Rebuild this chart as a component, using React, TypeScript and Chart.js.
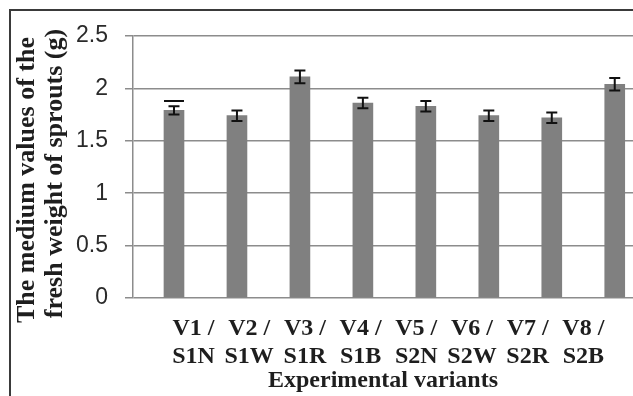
import React, { useEffect, useRef } from "react";
import { Chart, registerables } from "chart.js";

Chart.register(...registerables);

const variantLine = ["V1 /", "V2 /", "V3 /", "V4 /", "V5 /", "V6 /", "V7 /", "V8 /"];
const substrateLine = ["S1N", "S1W", "S1R", "S1B", "S2N", "S2W", "S2R", "S2B"];
const freshWeight = [1.79, 1.74, 2.11, 1.86, 1.83, 1.74, 1.72, 2.04];
const errorBar = [0.04, 0.05, 0.06, 0.05, 0.05, 0.05, 0.05, 0.06];
const extraMark: (number | null)[] = [1.88, null, null, null, null, null, null, null];
const yTicks = [0, 0.5, 1, 1.5, 2, 2.5];
const yTitle = ["The medium values of the    ", "fresh weight of sprouts (g)  "];
const xTitle = "Experimental variants";

const errorPlugin = {
  id: "errorBars",
  afterDatasetsDraw(chart: any) {
    const ctx = chart.ctx;
    const xs = chart.scales.x;
    const ys = chart.scales.y;
    ctx.save();
    ctx.strokeStyle = "#111";
    ctx.lineWidth = 2;
    freshWeight.forEach((v, i) => {
      const x = xs.getPixelForValue(i);
      const top = ys.getPixelForValue(v + errorBar[i]);
      const bot = ys.getPixelForValue(v - errorBar[i]);
      const cap = 5.5;
      ctx.beginPath();
      ctx.moveTo(x, top);
      ctx.lineTo(x, bot);
      ctx.moveTo(x - cap, top);
      ctx.lineTo(x + cap, top);
      ctx.moveTo(x - cap, bot);
      ctx.lineTo(x + cap, bot);
      ctx.stroke();
      const m = extraMark[i];
      if (m !== null) {
        const ym = ys.getPixelForValue(m);
        ctx.beginPath();
        ctx.moveTo(x - 10, ym);
        ctx.lineTo(x + 10, ym);
        ctx.stroke();
      }
    });
    ctx.restore();
  },
};

export default function App() {
  const ref = useRef<HTMLCanvasElement | null>(null);
  useEffect(() => {
    if (!ref.current) return;
    const chart = new Chart(ref.current, {
      type: "bar",
      data: {
        datasets: [
          {
            data: freshWeight.map((v, i) => ({ x: i, y: v })),
            backgroundColor: "#808080",
            borderWidth: 0,
            barThickness: 20,
            xAxisID: "x",
            yAxisID: "y",
          },
        ],
      },
      options: {
        responsive: false,
        animation: false,
        devicePixelRatio: 1,
        layout: { padding: { top: 36, right: 0, bottom: 0, left: 0 } },
        plugins: { legend: { display: false }, tooltip: { enabled: false } },
        scales: {
          x: {
            type: "linear",
            offset: false,
            min: -0.651,
            max: 7.29,
            display: false,
            grid: { offset: false },
          },
          x2: {
            type: "linear",
            position: "bottom",
            offset: false,
            min: -1.086,
            max: 7.891,
            afterBuildTicks: (scale: any) => {
              scale.ticks = variantLine.map((_, i) => ({ value: i }));
            },
            afterFit: (scale: any) => {
              scale.height = 98;
            },
            grid: { display: false, offset: false },
            border: { display: false },
            ticks: {
              autoSkip: false,
              maxRotation: 0,
              minRotation: 0,
              padding: 9,
              color: "#1e1e1e",
              font: { family: "Liberation Serif", size: 24, weight: "bold", lineHeight: 1.15 },
              callback: (value: any) => {
                const i = Math.round(Number(value));
                return [variantLine[i], substrateLine[i]];
              },
            },
            title: {
              display: true,
              text: xTitle,
              color: "#1e1e1e",
              font: { family: "Liberation Serif", size: 24, weight: "bold", lineHeight: 1.15 },
              padding: { top: 0, bottom: 1 },
            },
          },
          y: {
            type: "linear",
            min: 0,
            max: 2.5,
            afterBuildTicks: (scale: any) => {
              scale.ticks = yTicks.map((v) => ({ value: v }));
            },
            afterFit: (scale: any) => {
              scale.width = 133;
            },
            grid: { color: "#8c8c8c", lineWidth: 1.5, tickLength: 8 },
            border: { color: "#8c8c8c", width: 1.5 },
            ticks: {
              padding: 17,
              color: "#2a2a2a",
              font: { family: "Liberation Sans", size: 23 },
              callback: (value: any) => String(value),
            },
            title: {
              display: true,
              text: yTitle,
              color: "#1e1e1e",
              font: { family: "Liberation Serif", size: 26, weight: "bold", lineHeight: 1.06 },
              padding: { top: 14, bottom: 0 },
            },
          },
        },
      },
      plugins: [errorPlugin],
    } as any);
    return () => chart.destroy();
  }, []);

  return (
    <div style={{ position: "fixed", left: 0, top: 0, width: 633, height: 396, background: "#fff", overflow: "hidden" }}>
      <canvas ref={ref} width={633} height={396} style={{ position: "absolute", left: 0, top: 0, width: 633, height: 396 }} />
      <div style={{ position: "absolute", left: 9, top: 9, width: 624, height: 2, background: "#3a3a3a" }} />
      <div style={{ position: "absolute", left: 9, top: 9, width: 2, height: 387, background: "#3a3a3a" }} />
    </div>
  );
}
